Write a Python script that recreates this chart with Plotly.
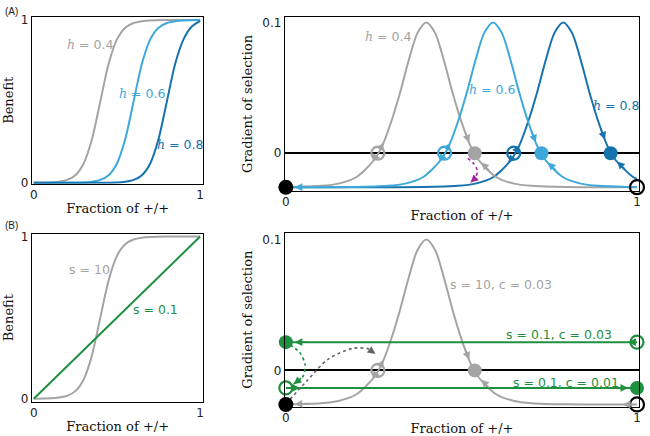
import numpy as np
import plotly.graph_objects as go

GRAY = "#a4a4a4"
LBLUE = "#3ea8da"
DBLUE = "#1673ad"
GREEN = "#1f8f40"
PURPLE = "#a0289c"
DGRAY = "#666666"
SERIF = "DejaVu Serif"
SANS = "DejaVu Sans"

# ---------------- Panel A left: benefit curves ----------------
ben_h04_x = [0, 0.1, 0.15, 0.2, 0.25, 0.3, 0.35, 0.4, 0.45, 0.5, 0.55, 0.6, 0.65, 0.7, 0.8, 1.0]
ben_h04_y = [0, 0.0025, 0.007, 0.018, 0.047, 0.119, 0.269, 0.5, 0.731, 0.881, 0.953, 0.982, 0.993, 0.9975, 0.9997, 1.0]
ben_h06_x = [0, 0.2, 0.3, 0.35, 0.4, 0.45, 0.5, 0.55, 0.6, 0.65, 0.7, 0.75, 0.8, 0.85, 0.9, 1.0]
ben_h06_y = [0, 0.0003, 0.0025, 0.007, 0.018, 0.047, 0.119, 0.269, 0.5, 0.731, 0.881, 0.953, 0.982, 0.993, 0.9975, 0.9997]
ben_h08_x = [0, 0.4, 0.5, 0.55, 0.6, 0.65, 0.7, 0.75, 0.8, 0.85, 0.9, 0.95, 1.0]
ben_h08_y = [0, 0.0003, 0.0025, 0.007, 0.018, 0.047, 0.119, 0.269, 0.5, 0.731, 0.881, 0.96, 0.995]

# ---------------- Panel A right: gradient of selection ----------------
grad_h04_x = [0, 0.1, 0.15, 0.2, 0.25, 0.275, 0.3, 0.325, 0.35, 0.375, 0.4, 0.425, 0.45, 0.475, 0.5, 0.525, 0.55, 0.6, 0.65, 0.7, 0.8, 1.0]
grad_h04_y = [-0.0259, -0.025, -0.0233, -0.0184, -0.0056, 0.006, 0.024, 0.046, 0.071, 0.092, 0.1,
              0.092, 0.071, 0.046, 0.024, 0.006, -0.0056, -0.0184, -0.0233, -0.025, -0.0259, -0.026]
grad_h06_x = [0, 0.19, 0.29, 0.34, 0.39, 0.44, 0.465, 0.49, 0.515, 0.54, 0.565, 0.59, 0.615, 0.64, 0.665, 0.69, 0.715, 0.74, 0.79, 0.84, 0.89, 0.99, 1.0]
grad_h06_y = [-0.026, -0.0259, -0.025, -0.0233, -0.0184, -0.0056, 0.006, 0.024, 0.046, 0.071, 0.092, 0.1,
              0.092, 0.071, 0.046, 0.024, 0.006, -0.0056, -0.0184, -0.0233, -0.025, -0.0259, -0.026]
grad_h08_x = [0, 0.29, 0.39, 0.49, 0.54, 0.59, 0.64, 0.665, 0.69, 0.715, 0.74, 0.765, 0.79, 0.815, 0.84, 0.865, 0.89, 0.915, 0.94, 0.99, 1.0]
grad_h08_y = [-0.026, -0.026, -0.0259, -0.025, -0.0233, -0.0184, -0.0056, 0.006, 0.024, 0.046, 0.071, 0.092, 0.1,
              0.092, 0.071, 0.046, 0.024, 0.006, -0.0056, -0.0184, -0.0195]

eqA_unstable_x = [0.262, 0.452, 0.649]
eqA_stable_x = [0.538, 0.728, 0.925]
boundary_y = -0.026

# ---------------- Panel B ----------------
ben_s10_x = ben_h04_x
ben_s10_y = ben_h04_y
ben_s01_x = [0, 1]
ben_s01_y = [0, 1]
grad_s10_x = grad_h04_x
grad_s10_y = grad_h04_y
grad_s01_c003 = 0.0216
grad_s01_c001 = -0.0134
eqB_unstable_x = [0.262]
eqB_stable_x = [0.538]

# dotted transition paths
purple_path_x = [0.518, 0.535, 0.545, 0.54, 0.526]
purple_path_y = [-0.004, -0.008, -0.013, -0.019, -0.0225]
green_path_x = [0.012, 0.04, 0.055, 0.048, 0.022]
green_path_y = [0.0195, 0.0135, 0.004, -0.005, -0.0105]
gray_path_x = [0.012, 0.06, 0.12, 0.19, 0.235, 0.255]
gray_path_y = [-0.022, -0.008, 0.0085, 0.0168, 0.0165, 0.0125]

fig = go.Figure()


def line(x, y, color, xa, ya, width=2, dash=None, shape="spline"):
    fig.add_trace(go.Scatter(x=x, y=y, mode="lines", xaxis=xa, yaxis=ya,
                             line=dict(color=color, width=width, dash=dash, shape=shape, smoothing=0.8),
                             hoverinfo="skip", showlegend=False))


def dots(x, y, color, xa, ya, size=14, open_=False):
    if open_:
        marker = dict(size=size, color=color, symbol="circle-open", line=dict(width=2.2))
    else:
        marker = dict(size=size, color=color, symbol="circle", line=dict(width=0))
    fig.add_trace(go.Scatter(x=x, y=y, mode="markers", xaxis=xa, yaxis=ya, cliponaxis=False,
                             marker=marker, hoverinfo="skip", showlegend=False))


arrows = []


def arrow(cx, cy, x0, x1, color, xa, ya):
    y0 = float(np.interp(x0, cx, cy))
    y1 = float(np.interp(x1, cx, cy))
    arrows.append(dict(x=x1, y=y1, ax=x0, ay=y0, xref=xa, yref=ya, axref=xa, ayref=ya,
                       showarrow=True, arrowhead=2, arrowsize=1.1, arrowwidth=1.4,
                       arrowcolor=color, standoff=0, startstandoff=0, text=""))


def path_head(px, py, color, xa, ya):
    arrows.append(dict(x=px[-1], y=py[-1], ax=px[-2], ay=py[-2],
                       xref=xa, yref=ya, axref=xa, ayref=ya, showarrow=True, arrowhead=2,
                       arrowsize=1.1, arrowwidth=1.4, arrowcolor=color, text=""))


# Panel A left
line(ben_h04_x, ben_h04_y, GRAY, "x", "y")
line(ben_h06_x, ben_h06_y, LBLUE, "x", "y")
line(ben_h08_x, ben_h08_y, DBLUE, "x", "y")

# Panel A right
line(grad_h08_x, grad_h08_y, DBLUE, "x2", "y2")
line(grad_h04_x, grad_h04_y, GRAY, "x2", "y2")
line(grad_h06_x, grad_h06_y, LBLUE, "x2", "y2")
line(purple_path_x, purple_path_y, PURPLE, "x2", "y2", width=1.6, dash="dot")
path_head(purple_path_x, purple_path_y, PURPLE, "x2", "y2")

for (cx, cy, col, u, s) in [(grad_h04_x, grad_h04_y, GRAY, eqA_unstable_x[0], eqA_stable_x[0]),
                            (grad_h06_x, grad_h06_y, LBLUE, eqA_unstable_x[1], eqA_stable_x[1]),
                            (grad_h08_x, grad_h08_y, DBLUE, eqA_unstable_x[2], eqA_stable_x[2])]:
    arrow(cx, cy, u + 0.006, u + 0.016, col, "x2", "y2")
    arrow(cx, cy, u - 0.006, u - 0.016, col, "x2", "y2")
    arrow(cx, cy, s - 0.03, s - 0.016, col, "x2", "y2")
    arrow(cx, cy, min(s + 0.045, 0.999), s + 0.018, col, "x2", "y2")
arrow(grad_h06_x, grad_h06_y, 0.07, 0.025, LBLUE, "x2", "y2")

for xv, col in zip(eqA_unstable_x, [GRAY, LBLUE, DBLUE]):
    dots([xv], [0], col, "x2", "y2", size=13, open_=True)
for xv, col in zip(eqA_stable_x, [GRAY, LBLUE, DBLUE]):
    dots([xv], [0], col, "x2", "y2", size=14)
dots([0], [boundary_y], "black", "x2", "y2", size=15)
dots([1], [boundary_y], "black", "x2", "y2", size=14, open_=True)

# Panel B left
line(ben_s10_x, ben_s10_y, GRAY, "x3", "y3")
line(ben_s01_x, ben_s01_y, GREEN, "x3", "y3", shape="linear")

# Panel B right
line(grad_s10_x, grad_s10_y, GRAY, "x4", "y4")
line([0, 1], [grad_s01_c003, grad_s01_c003], GREEN, "x4", "y4", shape="linear")
line([0, 1], [grad_s01_c001, grad_s01_c001], GREEN, "x4", "y4", shape="linear")
line(green_path_x, green_path_y, GREEN, "x4", "y4", width=1.6, dash="dot")
line(gray_path_x, gray_path_y, DGRAY, "x4", "y4", width=1.6, dash="dot")
path_head(green_path_x, green_path_y, GREEN, "x4", "y4")
path_head(gray_path_x, gray_path_y, DGRAY, "x4", "y4")

u, s = eqB_unstable_x[0], eqB_stable_x[0]
arrow(grad_s10_x, grad_s10_y, u + 0.006, u + 0.016, GRAY, "x4", "y4")
arrow(grad_s10_x, grad_s10_y, u - 0.006, u - 0.016, GRAY, "x4", "y4")
arrow(grad_s10_x, grad_s10_y, s - 0.03, s - 0.016, GRAY, "x4", "y4")
arrow(grad_s10_x, grad_s10_y, s + 0.045, s + 0.018, GRAY, "x4", "y4")
arrow(grad_s10_x, grad_s10_y, 0.07, 0.025, GRAY, "x4", "y4")
arrow(grad_s10_x, grad_s10_y, 0.995, 0.96, GRAY, "x4", "y4")
arrow([0, 1], [grad_s01_c003] * 2, 0.07, 0.025, GREEN, "x4", "y4")
arrow([0, 1], [grad_s01_c003] * 2, 1.0, 0.975, GREEN, "x4", "y4")
arrow([0, 1], [grad_s01_c001] * 2, 0.0, 0.04, GREEN, "x4", "y4")
arrow([0, 1], [grad_s01_c001] * 2, 0.93, 0.975, GREEN, "x4", "y4")

dots(eqB_unstable_x, [0], GRAY, "x4", "y4", size=13, open_=True)
dots(eqB_stable_x, [0], GRAY, "x4", "y4", size=14)
dots([0], [grad_s01_c003], GREEN, "x4", "y4", size=14)
dots([1], [grad_s01_c003], GREEN, "x4", "y4", size=13, open_=True)
dots([0], [grad_s01_c001], GREEN, "x4", "y4", size=13, open_=True)
dots([1], [grad_s01_c001], GREEN, "x4", "y4", size=14)
dots([0], [boundary_y], "black", "x4", "y4", size=15)
dots([1], [boundary_y], "black", "x4", "y4", size=14, open_=True)


def hlab(h):
    return "<span style='font-family:DejaVu Serif;font-style:italic'>h</span> = " + h


labels = [
    ("x", "y", 0.34, 0.852, hlab("0.4"), GRAY, "center"),
    ("x", "y", 0.65, 0.546, hlab("0.6"), LBLUE, "center"),
    ("x", "y", 0.877, 0.234, hlab("0.8"), DBLUE, "center"),
    ("x2", "y2", 0.291, 0.0895, hlab("0.4"), GRAY, "center"),
    ("x2", "y2", 0.588, 0.049, hlab("0.6"), LBLUE, "center"),
    ("x2", "y2", 0.94, 0.0364, hlab("0.8"), DBLUE, "center"),
    ("x3", "y3", 0.334, 0.795, "s = 10", GRAY, "center"),
    ("x3", "y3", 0.73, 0.548, "s = 0.1", GREEN, "center"),
    ("x4", "y4", 0.463, 0.0657, "s = 10, c = 0.03", GRAY, "left"),
    ("x4", "y4", 0.777, 0.0276, "s = 0.1, c = 0.03", GREEN, "center"),
    ("x4", "y4", 0.797, -0.009, "s = 0.1, c = 0.01", GREEN, "center"),
]
annots = list(arrows)
for xa, ya, xv, yv, t, col, al in labels:
    annots.append(dict(x=xv, y=yv, xref=xa, yref=ya, text=t, showarrow=False, xanchor=al,
                       font=dict(family=SANS, size=12.5, color=col)))
annots.append(dict(x=0.0, y=1.0, xref="paper", yref="paper", text="(A)", showarrow=False,
                   xanchor="left", yanchor="top", font=dict(family="Liberation Sans", size=10, color="#222")))
annots.append(dict(x=0.0, y=1 - 219 / 436, xref="paper", yref="paper", text="(B)", showarrow=False,
                   xanchor="left", yanchor="top", font=dict(family="Liberation Sans", size=10, color="#222")))

axis_common = dict(showline=True, mirror=True, linecolor="black", linewidth=1, showgrid=False,
                   zeroline=False, ticks="", tickfont=dict(family=SANS, size=12, color="#222"),
                   fixedrange=True)
xt = dict(text="Fraction of +/+", font=dict(family=SERIF, size=13, color="#111"), standoff=2)

fig.update_layout(
    width=650, height=436, margin=dict(l=0, r=0, t=0, b=0),
    paper_bgcolor="white", plot_bgcolor="white", annotations=annots,
    xaxis=dict(axis_common, domain=[0.0446, 0.3108], range=[-0.012, 1.02], tickvals=[0, 1],
               title=xt, anchor="y"),
    yaxis=dict(axis_common, domain=[0.578, 0.970], range=[-0.006, 1.02], tickvals=[0, 1],
               title=dict(text="Benefit", font=dict(family=SERIF, size=13, color="#111"), standoff=4),
               anchor="x"),
    xaxis2=dict(axis_common, domain=[0.4369, 0.9862], range=[-0.003, 1.006], tickvals=[0, 1],
                title=xt, anchor="y2"),
    yaxis2=dict(axis_common, domain=[0.5608, 0.970], range=[-0.029, 0.1043], tickvals=[0, 0.1],
                ticktext=["0", "0.1"], zeroline=True, zerolinecolor="black", zerolinewidth=2,
                title=dict(text="Gradient of selection", font=dict(family=SERIF, size=13, color="#111"),
                           standoff=6), anchor="x2"),
    xaxis3=dict(axis_common, domain=[0.0446, 0.3108], range=[-0.012, 1.02], tickvals=[0, 1],
                title=xt, anchor="y3"),
    yaxis3=dict(axis_common, domain=[0.0665, 0.461], range=[-0.018, 1.018], tickvals=[0, 1],
                title=dict(text="Benefit", font=dict(family=SERIF, size=13, color="#111"), standoff=4),
                anchor="x3"),
    xaxis4=dict(axis_common, domain=[0.4369, 0.9862], range=[-0.003, 1.006], tickvals=[0, 1],
                title=xt, anchor="y4"),
    yaxis4=dict(axis_common, domain=[0.055, 0.4633], range=[-0.0276, 0.1052], tickvals=[0, 0.1],
                ticktext=["0", "0.1"], zeroline=True, zerolinecolor="black", zerolinewidth=2,
                title=dict(text="Gradient of selection", font=dict(family=SERIF, size=13, color="#111"),
                           standoff=6), anchor="x4"),
)

fig.write_html("out.html", config={"displayModeBar": False, "staticPlot": True},
               post_script="document.body.style.margin='0';document.body.style.overflow='hidden';")
